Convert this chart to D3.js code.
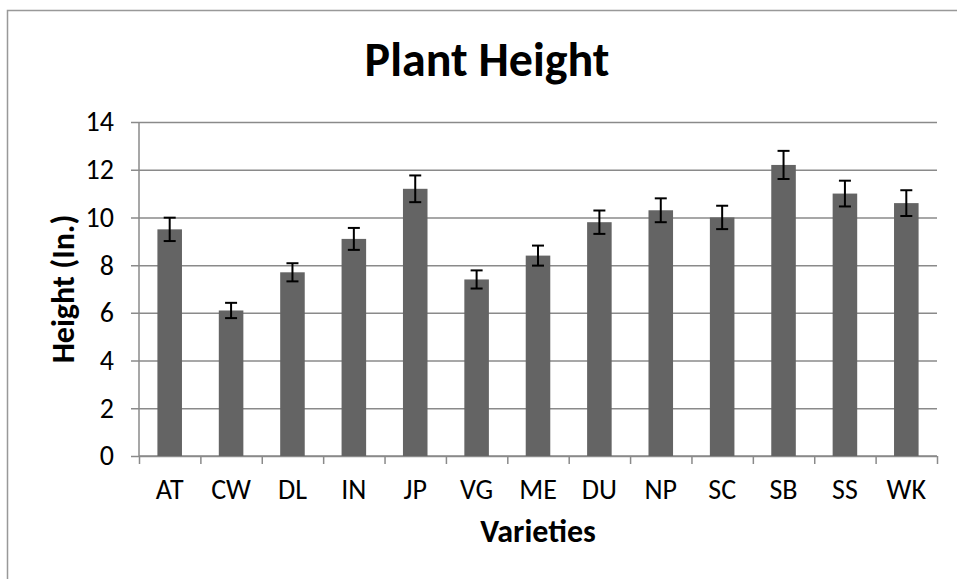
<!doctype html>
<html lang="en">
<head>
	<meta charset="utf-8">
	<title>Plant Height</title>
	<script type="text/javascript" src="https://d3js.org/d3.v7.min.js"></script>
	<style>
		body { margin: 0; background: #fff; }
		text { font-family: Carlito, Lato, "Open Sans", sans-serif; fill: #000; }
	</style>
</head>
<body>
	<script type="text/javascript">
		// chart data
		var varieties = ["AT", "CW", "DL", "IN", "JP", "VG", "ME", "DU", "NP", "SC", "SB", "SS", "WK"];
		var heights = [9.5, 6.1, 7.7, 9.1, 11.2, 7.4, 8.4, 9.8, 10.3, 10.0, 12.2, 11.0, 10.6];
		var errors = [0.49, 0.32, 0.38, 0.46, 0.56, 0.38, 0.42, 0.49, 0.5, 0.49, 0.59, 0.54, 0.54];
		var yTicks = [0, 2, 4, 6, 8, 10, 12, 14];

		var width = 957;
		var height = 579;
		var plotLeft = 139, plotRight = 937, plotTop = 122, plotBottom = 456;

		var svg = d3.select("body").append("svg")
			.attr("width", width)
			.attr("height", height);

		// outer chart border
		svg.append("rect")
			.attr("x", 7.5).attr("y", 10.5)
			.attr("width", 1000).attr("height", 1000)
			.style("fill", "none")
			.style("stroke", "#999")
			.style("stroke-width", 1.5);

		var x = d3.scaleBand().domain(varieties).range([plotLeft, plotRight]).paddingInner(0.6).paddingOuter(0.3);
		var xEdge = d3.scaleLinear().domain([0, varieties.length]).range([plotLeft, plotRight]);
		var y = d3.scaleLinear().domain([0, 14]).range([plotBottom, plotTop]);

		// gridlines (with the little outside tick)
		svg.append("g")
			.attr("transform", "translate(" + (plotLeft - 8) + ",0)")
			.call(d3.axisLeft(y).tickValues(yTicks).tickSize(-(plotRight - plotLeft) - 8).tickFormat(""))
			.call(function(g) {
				g.select(".domain").remove();
				g.selectAll("line").style("stroke", "#8a8a8a").style("stroke-width", 1.5);
			});

		// y tick labels
		var yAxis = svg.append("g")
			.attr("transform", "translate(" + plotLeft + ",0)")
			.call(d3.axisLeft(y).tickValues(yTicks).tickSize(0).tickPadding(25));
		yAxis.select(".domain").remove();
		yAxis.selectAll("text").style("font-size", "28px");

		// left axis line
		svg.append("line")
			.attr("x1", plotLeft).attr("x2", plotLeft)
			.attr("y1", plotTop).attr("y2", plotBottom)
			.style("stroke", "#8a8a8a").style("stroke-width", 1.5);

		// x axis boundary ticks
		svg.append("g")
			.attr("transform", "translate(0," + plotBottom + ")")
			.call(d3.axisBottom(xEdge).ticks(varieties.length).tickSize(8).tickFormat(""))
			.call(function(g) {
				g.select(".domain").attr("d", "M" + plotLeft + ",0H" + plotRight);
				g.selectAll("path, line").style("stroke", "#8a8a8a").style("stroke-width", 1.5);
			});

		// x labels
		var xAxis = svg.append("g")
			.attr("transform", "translate(0," + plotBottom + ")")
			.call(d3.axisBottom(x).tickSize(0).tickPadding(23));
		xAxis.select(".domain").remove();
		xAxis.selectAll("text").style("font-size", "28px");

		// bars
		svg.selectAll("rect.bar")
			.data(varieties)
			.enter()
			.append("rect")
			.attr("class", "bar")
			.attr("x", function(d) { return x(d); })
			.attr("width", x.bandwidth())
			.attr("y", function(d, i) { return y(heights[i]); })
			.attr("height", function(d, i) { return plotBottom - y(heights[i]); })
			.style("fill", "#646464");

		// error bars
		var err = svg.append("g").selectAll("g")
			.data(varieties)
			.enter()
			.append("g")
			.style("stroke", "#000")
			.style("stroke-width", 2);

		var cx = function(d) { return x(d) + x.bandwidth() / 2; };
		err.append("line")
			.attr("x1", cx).attr("x2", cx)
			.attr("y1", function(d, i) { return y(heights[i] + errors[i]); })
			.attr("y2", function(d, i) { return y(heights[i] - errors[i]); });
		err.append("line")
			.attr("x1", function(d) { return cx(d) - 6; }).attr("x2", function(d) { return cx(d) + 6; })
			.attr("y1", function(d, i) { return y(heights[i] + errors[i]); })
			.attr("y2", function(d, i) { return y(heights[i] + errors[i]); });
		err.append("line")
			.attr("x1", function(d) { return cx(d) - 6; }).attr("x2", function(d) { return cx(d) + 6; })
			.attr("y1", function(d, i) { return y(heights[i] - errors[i]); })
			.attr("y2", function(d, i) { return y(heights[i] - errors[i]); });

		// titles
		svg.append("text")
			.attr("x", 487).attr("y", 76)
			.attr("text-anchor", "middle")
			.style("font-size", "48px")
			.style("font-weight", "bold")
			.text("Plant Height");

		svg.append("text")
			.attr("x", (plotLeft + plotRight) / 2).attr("y", 542)
			.attr("text-anchor", "middle")
			.style("font-size", "32px")
			.style("font-weight", "bold")
			.text("Varieties");

		svg.append("text")
			.attr("transform", "translate(74," + (plotTop + plotBottom) / 2 + ") rotate(-90)")
			.attr("text-anchor", "middle")
			.style("font-size", "32px")
			.style("font-weight", "bold")
			.text("Height (In.)");
	</script>
</body>
</html>
